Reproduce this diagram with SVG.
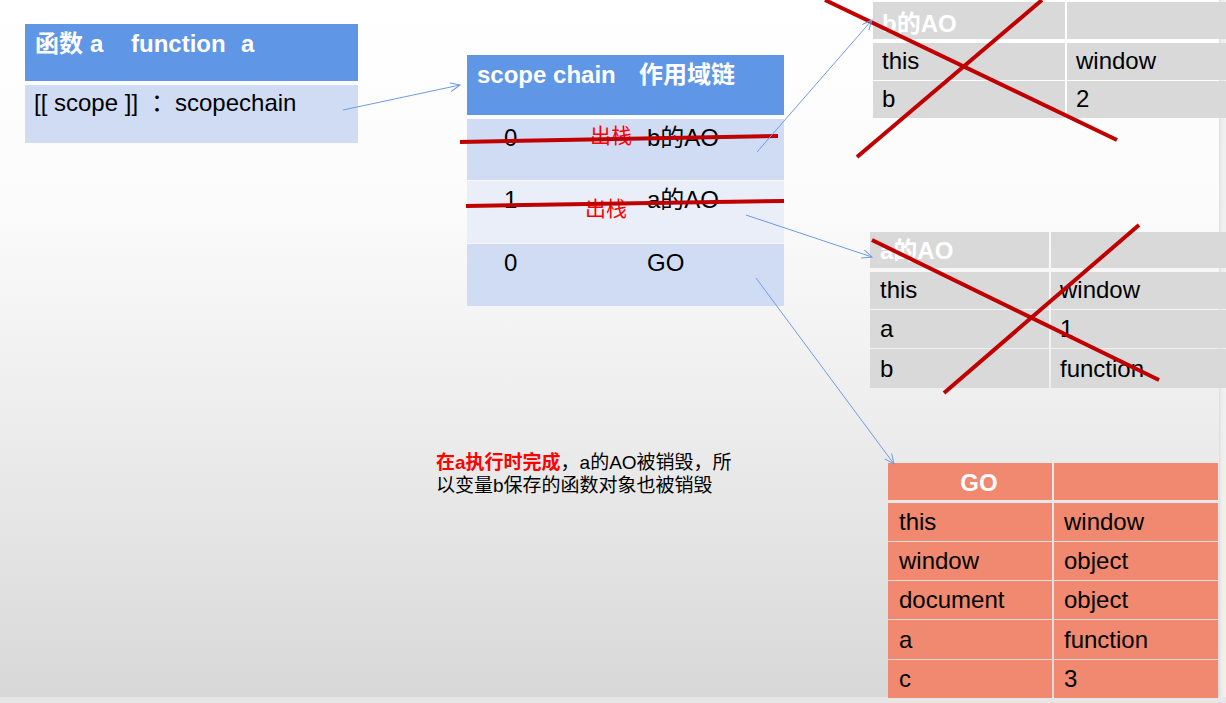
<svg xmlns="http://www.w3.org/2000/svg" width="1226" height="703" viewBox="0 0 1226 703">
<defs>
<linearGradient id="bg" x1="0" y1="0" x2="0" y2="1">
<stop offset="0" stop-color="#ffffff"/>
<stop offset="0.3" stop-color="#fbfbfb"/>
<stop offset="0.6" stop-color="#ededed"/>
<stop offset="1" stop-color="#d8d8d8"/>
</linearGradient>
<linearGradient id="edge" x1="0" y1="0" x2="1" y2="0">
<stop offset="0" stop-color="#dcdcdc"/>
<stop offset="0.3" stop-color="#ececec"/>
<stop offset="1" stop-color="#f2f2f2"/>
</linearGradient>
<marker id="arr" markerUnits="userSpaceOnUse" markerWidth="12" markerHeight="10" refX="10" refY="4.5" orient="auto">
<path d="M0,0 L10,4.5 L0,9" fill="none" stroke="#6f9be6" stroke-width="1"/>
</marker>
</defs>
<style>
text{font-family:"Liberation Sans","Noto Sans CJK SC",sans-serif;font-size:24px;fill:#000}
.hd{font-weight:bold;fill:#fff}
.blue{fill:#6096e6}
.lb1{fill:#d0dcf4}
.lb2{fill:#e9eef9}
.gray{fill:#d9d9d9}
.sal{fill:#f0896f}
.conn{stroke:#6f9be6;stroke-width:1;fill:none}
.x{stroke:#c00000;stroke-width:4;stroke-linecap:butt}
.red{fill:#ff0000;font-size:21px}
.note{font-size:19px}
</style>
<rect x="0" y="0" width="1226" height="697" fill="url(#bg)"/>
<rect x="0" y="697" width="1226" height="6" fill="#e6e6e6"/>
<rect x="1219" y="0" width="7" height="697" fill="url(#edge)"/>

<g id="func-a">
<rect class="blue" x="25" y="24" width="333" height="57"/>
<rect class="lb1" x="25" y="85" width="333" height="58"/>
<text class="hd" y="52"><tspan x="35">函数</tspan><tspan x="90">a</tspan><tspan x="131">function</tspan><tspan x="241">a</tspan></text>
<text y="111"><tspan x="34">[[ scope ]]</tspan><tspan x="151">：</tspan><tspan x="175">scopechain</tspan></text>
</g>

<g id="scope-chain">
<rect class="blue" x="467" y="55" width="317" height="60"/>
<rect class="lb1" x="467" y="119" width="317" height="61"/>
<rect class="lb2" x="467" y="181" width="317" height="62"/>
<rect class="lb1" x="467" y="244" width="317" height="62"/>
<text class="hd" y="83"><tspan x="477">scope chain</tspan><tspan x="639">作用域链</tspan></text>
<text x="504" y="146">0</text>
<text x="647" y="146">b的AO</text>
<text x="504" y="208">1</text>
<text x="647" y="208">a的AO</text>
<text x="504" y="271">0</text>
<text x="647" y="271">GO</text>
<text class="red" x="590" y="143">出栈</text>
<text class="red" x="585" y="216">出栈</text>
<line class="x" x1="460" y1="142" x2="778" y2="136"/>
<line class="x" x1="466" y1="206" x2="784" y2="201"/>
</g>

<g id="b-ao">
<rect class="gray" x="873" y="2" width="192" height="37"/>
<rect class="gray" x="1067" y="2" width="159" height="37"/>
<rect class="gray" x="873" y="43" width="192" height="37"/>
<rect class="gray" x="1067" y="43" width="159" height="37"/>
<rect class="gray" x="873" y="81" width="192" height="37"/>
<rect class="gray" x="1067" y="81" width="159" height="37"/>
<text class="hd" x="882" y="32">b的AO</text>
<text x="882" y="69">this</text>
<text x="1076" y="69">window</text>
<text x="882" y="107">b</text>
<text x="1076" y="107">2</text>
<line class="x" x1="825" y1="0" x2="1117" y2="140"/>
<line class="x" x1="857" y1="157" x2="1042" y2="0"/>
</g>

<g id="a-ao">
<rect class="gray" x="870" y="232" width="179" height="36"/>
<rect class="gray" x="1051" y="232" width="175" height="36"/>
<rect class="gray" x="870" y="272" width="179" height="37"/>
<rect class="gray" x="1051" y="272" width="175" height="37"/>
<rect class="gray" x="870" y="310" width="179" height="38"/>
<rect class="gray" x="1051" y="310" width="175" height="38"/>
<rect class="gray" x="870" y="349" width="179" height="39"/>
<rect class="gray" x="1051" y="349" width="175" height="39"/>
<text class="hd" x="880" y="259">a的AO</text>
<text x="880" y="298">this</text>
<text x="1060" y="298">window</text>
<text x="880" y="337">a</text>
<text x="1060" y="337">1</text>
<text x="880" y="377">b</text>
<text x="1060" y="377">function</text>
<line class="x" x1="872" y1="240" x2="1159" y2="380"/>
<line class="x" x1="944" y1="393" x2="1139" y2="225"/>
</g>

<g id="go">
<rect class="sal" x="888" y="463" width="164" height="37"/>
<rect class="sal" x="1054" y="463" width="164" height="37"/>
<rect class="sal" x="888" y="503" width="164" height="38"/>
<rect class="sal" x="1054" y="503" width="164" height="38"/>
<rect class="sal" x="888" y="542" width="164" height="38"/>
<rect class="sal" x="1054" y="542" width="164" height="38"/>
<rect class="sal" x="888" y="581" width="164" height="38"/>
<rect class="sal" x="1054" y="581" width="164" height="38"/>
<rect class="sal" x="888" y="620" width="164" height="39"/>
<rect class="sal" x="1054" y="620" width="164" height="39"/>
<rect class="sal" x="888" y="660" width="164" height="38"/>
<rect class="sal" x="1054" y="660" width="164" height="38"/>
<text class="hd" x="979" y="491" text-anchor="middle">GO</text>
<text x="899" y="530">this</text>
<text x="1064" y="530">window</text>
<text x="899" y="569">window</text>
<text x="1064" y="569">object</text>
<text x="899" y="608">document</text>
<text x="1064" y="608">object</text>
<text x="899" y="648">a</text>
<text x="1064" y="648">function</text>
<text x="899" y="687">c</text>
<text x="1064" y="687">3</text>
</g>

<g id="note">
<text class="note" x="436" y="469"><tspan fill="#ff0000" font-weight="bold">在a执行时完成</tspan>，a的AO被销毁，所</text>
<text class="note" x="436" y="492">以变量b保存的函数对象也被销毁</text>
</g>

<g id="connectors">
<line class="conn" x1="343" y1="110" x2="460" y2="85" marker-end="url(#arr)"/>
<line class="conn" x1="757" y1="152" x2="872" y2="20" marker-end="url(#arr)"/>
<line class="conn" x1="746" y1="215" x2="872" y2="257" marker-end="url(#arr)"/>
<line class="conn" x1="756" y1="278" x2="894" y2="464" marker-end="url(#arr)"/>
</g>
</svg>
